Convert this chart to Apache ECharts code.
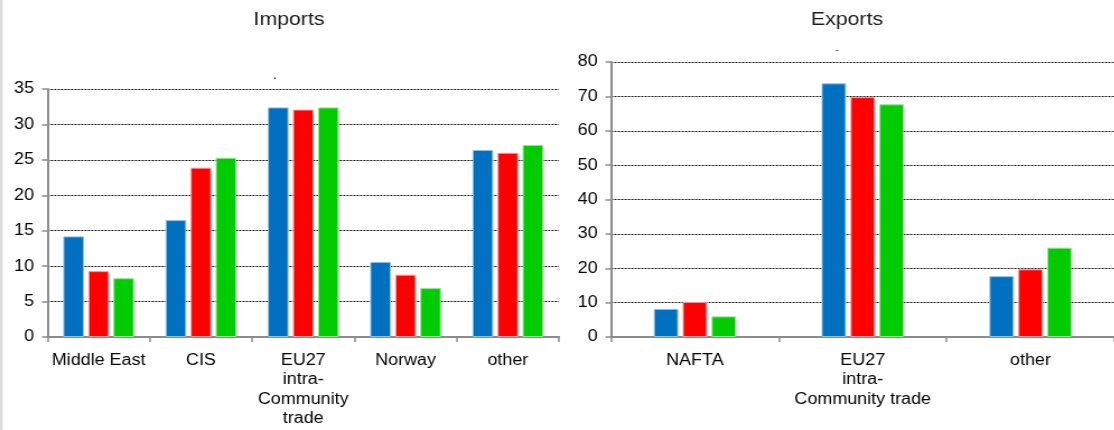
<!DOCTYPE html>
<html>
<head>
<meta charset="utf-8">
<script src="https://cdn.jsdelivr.net/npm/echarts@6/dist/echarts.min.js"></script>
<style>
html,body{margin:0;padding:0;background:#fff;overflow:hidden;}
#wrap{width:1114px;height:430px;overflow:hidden;position:relative;}
#c{height:430px;transform-origin:0 0;}
</style>
</head>
<body>
<div id="wrap"><div id="c"></div></div>
<script>
// ---- data ----
const importCats = ['Middle East', 'CIS', 'EU27\nintra-\nCommunity\ntrade', 'Norway', 'other'];
const importS1 = [14.2, 16.5, 32.4, 10.6, 26.4];
const importS2 = [9.3, 23.9, 32.1, 8.8, 26.0];
const importS3 = [8.3, 25.3, 32.4, 6.9, 27.1];

const exportCats = ['NAFTA', 'EU27\nintra-\nCommunity trade', 'other'];
const exportS1 = [8.2, 73.8, 17.7];
const exportS2 = [10.2, 69.8, 19.7];
const exportS3 = [6.0, 67.7, 26.0];

const titles = ['Imports', 'Exports'];

// ---- layout ----
const S = 1.12; // horizontal stretch of the reference
const W = 1114 / S;
const px = v => v / S;
const el = document.getElementById('c');
el.style.width = W + 'px';
el.style.transform = 'scaleX(' + S + ')';

const FONT = "'Liberation Sans', Arial, sans-serif";
const colors = ['#0070C0', '#FF0000', '#00CC00'];
const borders = ['#8fc0e6', '#ff9a9a', '#8fe88f'];

const axisGray = '#8c8c8c';

function xAxis(idx, cats) {
  return {
    type: 'category', gridIndex: idx, data: cats,
    axisLine: {lineStyle: {color: axisGray, width: 2}},
    axisTick: {show: true, length: 5, lineStyle: {color: axisGray, width: 1.5}},
    axisLabel: {color: '#000', fontSize: 16, fontFamily: FONT, lineHeight: 19.5, margin: 13.5, interval: 0}
  };
}
function yAxis(idx, max, interval) {
  return {
    type: 'value', gridIndex: idx, min: 0, max: max, interval: interval,
    axisLine: {show: true, lineStyle: {color: axisGray, width: 2}},
    axisTick: {show: true, length: 5, lineStyle: {color: axisGray, width: 1.5}},
    axisLabel: {color: '#000', fontSize: 16, fontFamily: FONT, margin: 12},
    splitLine: {show: true, lineStyle: {color: '#1a1a1a', width: 1, type: [2, 1]}}
  };
}
function bars(idx, vals, k, bw, gap) {
  return {
    type: 'bar', name: 'series ' + (k + 1), xAxisIndex: idx, yAxisIndex: idx,
    data: vals, barWidth: bw, barGap: gap,
    itemStyle: {color: colors[k], borderColor: borders[k], borderWidth: 1},
    emphasis: {disabled: true}
  };
}

const chart = echarts.init(el, null, {renderer: 'canvas'});
chart.setOption({
  animation: false,
  grid: [
    {left: px(47.5), top: 89, width: px(511.5), height: 248},
    {left: px(611), top: 62, width: px(509), height: 275}
  ],
  xAxis: [xAxis(0, importCats), xAxis(1, exportCats)],
  yAxis: [yAxis(0, 35, 5), yAxis(1, 80, 10)],
  series: [
    bars(0, importS1, 0, px(20.7), '21%'),
    bars(0, importS2, 1, px(20.7), '21%'),
    bars(0, importS3, 2, px(20.7), '21%'),
    bars(1, exportS1, 0, px(24.5), '18%'),
    bars(1, exportS2, 1, px(24.5), '18%'),
    bars(1, exportS3, 2, px(24.5), '18%')
  ],
  graphic: [
    {type: 'rect', left: 0, top: 0, shape: {width: px(2.7), height: 430}, style: {fill: '#dcdcdc'}, silent: true},
    {type: 'text', x: px(289), y: 20, style: {text: titles[0], font: '19px ' + FONT, fill: '#1a1a1a', textAlign: 'center', textVerticalAlign: 'middle'}},
    {type: 'text', x: px(847), y: 20, style: {text: titles[1], font: '19px ' + FONT, fill: '#1a1a1a', textAlign: 'center', textVerticalAlign: 'middle'}},
    {type: 'text', x: px(275), y: 76, style: {text: '.', font: '12px ' + FONT, fill: '#000', textAlign: 'center', textVerticalAlign: 'middle'}},
    {type: 'text', x: px(837), y: 50, style: {text: '-', font: '10px ' + FONT, fill: '#444', textAlign: 'center', textVerticalAlign: 'middle'}}
  ]
});
</script>
</body>
</html>
